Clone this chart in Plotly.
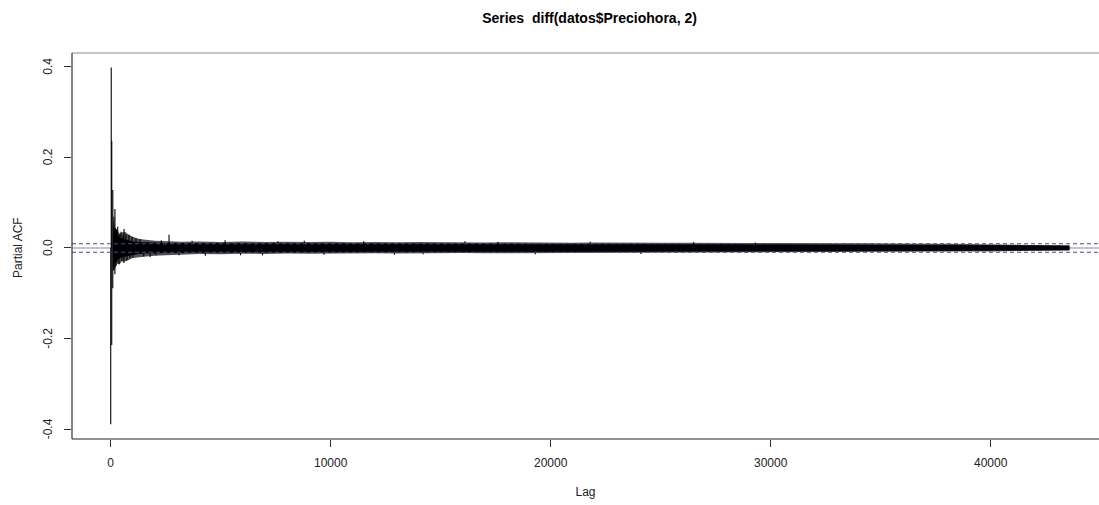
import plotly.graph_objects as go

# ---------------- data ----------------
title_text = "Series  diff(datos$Preciohora, 2)"
x_ticks = [0, 10000, 20000, 30000, 40000]
y_ticks = [-0.4, -0.2, 0.0, 0.2, 0.4]
y_tick_labels = ["-0.4", "-0.2", "0.0", "0.2", "0.4"]

n_obs = 44000           # series length -> CI = 1.96/sqrt(n)
max_lag = 43570

# prominent individual spikes (lag, partial acf)
spike_lag = [1, 24, 47, 48, 95, 96, 143, 144, 191, 192, 216, 240, 265, 290,
             318, 336, 377, 410, 470, 510, 560, 600, 605, 695, 740, 830, 880,
             970, 1010, 1150, 1330, 1500, 1790, 2050, 2300, 2650, 3100, 3700,
             4300, 5200, 5900, 6900, 7600, 8800, 9700, 11500, 12900, 14200,
             16100, 17600, 19300, 21800, 24100, 26500, 29300]
spike_val = [-0.389, 0.398, -0.214, 0.236, -0.089, 0.128, -0.049, 0.069,
             -0.058, 0.086, 0.044, -0.040, 0.040, -0.031, 0.047, 0.030, -0.036,
             0.030, 0.036, -0.028, 0.028, -0.033, 0.042, 0.030, -0.027, 0.029,
             -0.022, 0.025, -0.021, 0.021, 0.020, -0.019, -0.020, -0.016, 0.017,
             0.029, -0.016, 0.016, -0.017, 0.017, -0.016, -0.016, 0.015, 0.016,
             -0.015, 0.015, -0.015, -0.014, 0.015, 0.014, -0.014, 0.014, -0.013,
             0.013, 0.012]

# envelope of the dense band of remaining lags
band_lag = [100, 150, 200, 300, 400, 500, 650, 800, 1000, 1300, 1600, 2000,
            2600, 3200, 4000, 5000, 6000, 7000, 8000, 9000, 10000, 11000,
            12000, 13000, 14000, 15000, 16000, 17000, 18000, 19000, 20000,
            21000, 22000, 23000, 24000, 25000, 26000, 27000, 28000, 29000,
            30000, 31000, 32000, 33000, 34000, 35000, 36000, 37000, 38000,
            39000, 40000, 41000, 42000, 43000, 43570]
outer_hi = [0.060, 0.050, 0.044, 0.040, 0.032, 0.034, 0.036, 0.030, 0.025,
            0.020, 0.018, 0.016, 0.015, 0.014, 0.0145, 0.0135, 0.0145, 0.0130,
            0.0140, 0.0130, 0.0138, 0.0128, 0.0135, 0.0125, 0.0132, 0.0124,
            0.0130, 0.0122, 0.0128, 0.0120, 0.0124, 0.0118, 0.0122, 0.0115,
            0.0120, 0.0114, 0.0118, 0.0112, 0.0116, 0.0110, 0.0112, 0.0106,
            0.0110, 0.0102, 0.0106, 0.0098, 0.0098, 0.0092, 0.0092, 0.0085,
            0.0082, 0.0074, 0.0070, 0.0062, 0.0056]
outer_lo = [-0.050, -0.049, -0.045, -0.035, -0.036, -0.030, -0.030, -0.027,
            -0.022, -0.020, -0.019, -0.017, -0.015, -0.014, -0.0130, -0.0138,
            -0.0125, -0.0132, -0.0122, -0.0128, -0.0120, -0.0126, -0.0118,
            -0.0122, -0.0115, -0.0120, -0.0112, -0.0118, -0.0110, -0.0115,
            -0.0108, -0.0112, -0.0106, -0.0110, -0.0104, -0.0108, -0.0102,
            -0.0105, -0.0100, -0.0102, -0.0098, -0.0100, -0.0096, -0.0096,
            -0.0092, -0.0090, -0.0088, -0.0086, -0.0082, -0.0080, -0.0076,
            -0.0070, -0.0064, -0.0058, -0.0052]
core_hi = [0.045, 0.040, 0.030, 0.025, 0.022, 0.020, 0.018, 0.016, 0.014,
           0.012, 0.011, 0.011, 0.010, 0.010, 0.0098, 0.0094, 0.0097, 0.0092,
           0.0095, 0.0090, 0.0093, 0.0088, 0.0091, 0.0086, 0.0089, 0.0085,
           0.0087, 0.0084, 0.0086, 0.0082, 0.0084, 0.0081, 0.0083, 0.0079,
           0.0081, 0.0077, 0.0079, 0.0075, 0.0077, 0.0073, 0.0072, 0.0070,
           0.0070, 0.0067, 0.0067, 0.0064, 0.0062, 0.0060, 0.0058, 0.0056,
           0.0054, 0.0052, 0.0050, 0.0047, 0.0045]
core_lo = [-0.040, -0.035, -0.030, -0.025, -0.022, -0.020, -0.018, -0.016,
           -0.014, -0.012, -0.011, -0.0105, -0.0100, -0.0095, -0.0092, -0.0094,
           -0.0090, -0.0092, -0.0088, -0.0090, -0.0086, -0.0088, -0.0084,
           -0.0086, -0.0083, -0.0084, -0.0081, -0.0082, -0.0080, -0.0081,
           -0.0078, -0.0079, -0.0077, -0.0077, -0.0075, -0.0075, -0.0073,
           -0.0073, -0.0071, -0.0070, -0.0067, -0.0067, -0.0065, -0.0064,
           -0.0062, -0.0060, -0.0058, -0.0057, -0.0055, -0.0053, -0.0051,
           -0.0049, -0.0047, -0.0044, -0.0042]

# ---------------- figure ----------------
ci = 1.96 / n_obs ** 0.5
FONT = "Liberation Sans, Arial, sans-serif"
X_RANGE = [-1759, 44923]
Y_RANGE = [-0.4214, 0.4302]
L_MARGIN, PLOT_W = 72, 1027

fig = go.Figure()

# outer (sparse spikes) part of the band
fig.add_trace(go.Scatter(
    x=band_lag + band_lag[::-1], y=outer_hi + outer_lo[::-1],
    fill="toself", fillcolor="rgba(0,0,0,0.68)", line=dict(width=0),
    mode="lines", hoverinfo="skip", showlegend=False))
# solid core of the band
fig.add_trace(go.Scatter(
    x=band_lag + band_lag[::-1], y=core_hi + core_lo[::-1],
    fill="toself", fillcolor="black", line=dict(width=0.8, color="black"),
    mode="lines", hoverinfo="skip", showlegend=False))

# individual spikes (type = "h")
sx, sy = [], []
for lg, v in zip(spike_lag, spike_val):
    sx += [lg, lg, None]
    sy += [0, v, None]
fig.add_trace(go.Scatter(x=sx, y=sy, mode="lines",
                         line=dict(color="black", width=1.1),
                         hoverinfo="skip", showlegend=False))

# confidence limits
for c in (ci, -ci):
    fig.add_trace(go.Scatter(x=X_RANGE, y=[c, c], mode="lines",
                             line=dict(color="rgb(70,70,175)", width=1.1,
                                       dash="4px,3px"),
                             hoverinfo="skip", showlegend=False))

# zero line
fig.add_shape(type="line", xref="paper", yref="y", x0=0, x1=1, y0=0, y1=0,
              line=dict(color="#8a8a8a", width=1.2), layer="below")

# box (right side lies outside the picture)
fig.add_shape(type="line", xref="paper", yref="paper", x0=0, x1=1, y0=1, y1=1,
              line=dict(color="#8c8c8c", width=1.2))
fig.add_shape(type="line", xref="paper", yref="paper", x0=0, x1=1, y0=0, y1=0,
              line=dict(color="#222", width=1.2))
fig.add_shape(type="line", xref="paper", yref="paper", x0=0, x1=0, y0=0, y1=1,
              line=dict(color="#333", width=1.2))

# y tick labels (rotated, parallel to the axis) and y title
annotations = []
for v, t in zip(y_ticks, y_tick_labels):
    annotations.append(dict(
        text=t, x=(48 - L_MARGIN) / PLOT_W, xref="paper", y=v, yref="y",
        xanchor="center", yanchor="middle", textangle=-90, showarrow=False,
        font=dict(size=12, family=FONT, color="#222")))
annotations.append(dict(
    text="Partial ACF", x=(18 - L_MARGIN) / PLOT_W, xref="paper", y=0, yref="y",
    xanchor="center", yanchor="middle", textangle=-90, showarrow=False,
    font=dict(size=12, family=FONT, color="#222")))

fig.update_layout(
    width=1099, height=505,
    margin=dict(l=L_MARGIN, r=0, t=53, b=66),
    paper_bgcolor="white", plot_bgcolor="white",
    font=dict(family=FONT, size=12, color="black"),
    title=dict(text="<b>" + title_text + "</b>", x=589.5 / 1099, xref="container",
               xanchor="center", y=1 - 18 / 505, yref="container",
               yanchor="middle", font=dict(size=14, family=FONT, color="black")),
    showlegend=False,
    annotations=annotations,
)
fig.update_xaxes(range=X_RANGE, tickvals=x_ticks,
                 ticktext=[str(t) for t in x_ticks],
                 ticks="outside", ticklen=7, tickcolor="#333", tickwidth=1,
                 showgrid=False, zeroline=False, showline=False,
                 tickfont=dict(size=12, color="#222"),
                 ticklabelstandoff=6,
                 title=dict(text="Lag", standoff=18, font=dict(size=12, color="#222")))
fig.update_yaxes(range=Y_RANGE, tickvals=y_ticks, showticklabels=False,
                 ticks="outside", ticklen=7, tickcolor="#333", tickwidth=1,
                 showgrid=False, zeroline=False, showline=False)

fig.write_html("out.html")
